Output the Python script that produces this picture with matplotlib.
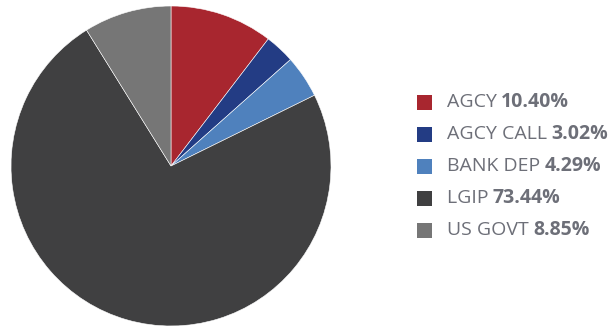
import matplotlib.pyplot as plt
from matplotlib.patches import Rectangle

labels = ["AGCY", "AGCY CALL", "BANK DEP", "LGIP", "US GOVT"]
values = [10.40, 3.02, 4.29, 73.44, 8.85]
colors = ["#A8262F", "#233C84", "#4F81BD", "#404041", "#767676"]

fig = plt.figure(figsize=(6.16, 3.29), dpi=100)
W, H = 616, 329

# pie: centre (171, 166) px, radius 160 px
ax = fig.add_axes([11 / W, 3 / H, 320 / W, 320 / H])
ax.pie(values, colors=colors, startangle=90, counterclock=False, radius=1,
       wedgeprops=dict(edgecolor="white", linewidth=0.4))
ax.set_xlim(-1, 1)
ax.set_ylim(-1, 1)
ax.set_aspect("equal")
ax.axis("off")

# legend drawn by hand so the percentage can be bold
txt_color = "#6D6F78"
row_y = [102, 134, 166, 198, 230]
fig.canvas.draw()
renderer = fig.canvas.get_renderer()
for lab, val, col, y in zip(labels, values, colors, row_y):
    fig.add_artist(Rectangle((417 / W, 1 - (y + 7.5) / H), 15 / W, 15 / H,
                             transform=fig.transFigure, facecolor=col,
                             edgecolor="none"))
    t = fig.text(447 / W, 1 - y / H, lab + " ", fontsize=14, family="Open Sans",
                 color=txt_color, va="center", ha="left")
    bb = t.get_window_extent(renderer=renderer)
    fig.text(bb.x1 / W - 1 / W, 1 - y / H, f"{val:.2f}%", fontsize=14,
             family="Open Sans", fontweight="bold", color=txt_color,
             va="center", ha="left")

fig.savefig("out.png", dpi=100)
